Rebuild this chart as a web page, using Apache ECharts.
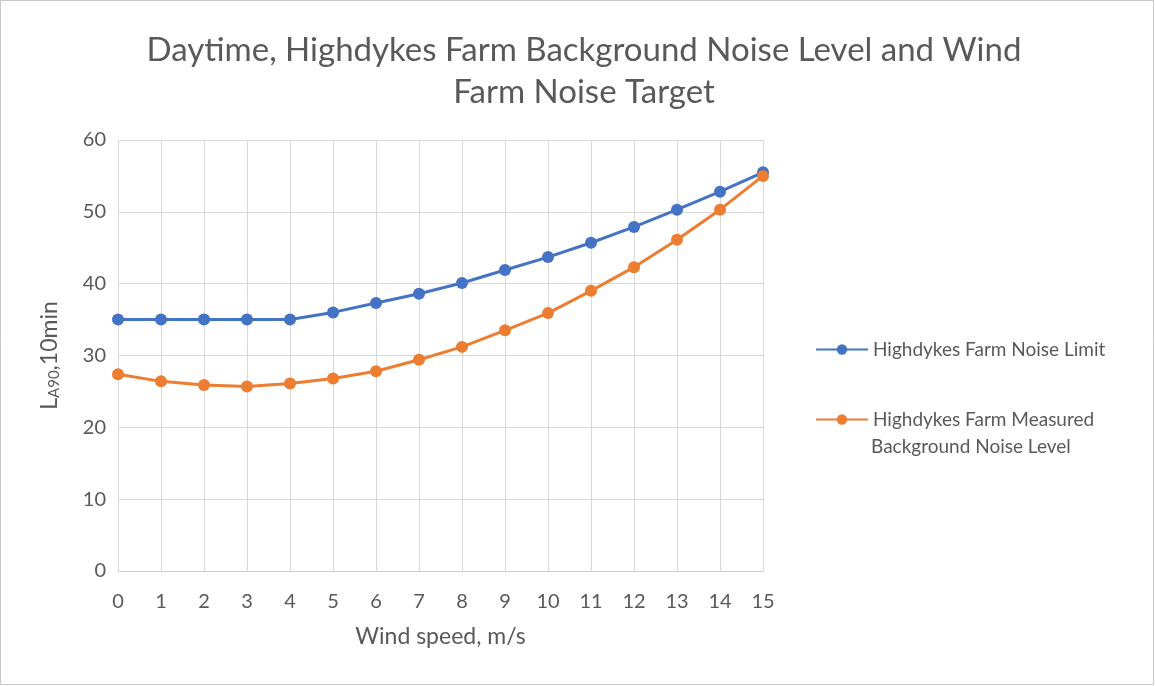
<!DOCTYPE html>
<html><head><meta charset="utf-8">
<script src="https://cdn.jsdelivr.net/npm/echarts@6/dist/echarts.min.js"></script>
<style>html,body{margin:0;padding:0;background:#fff}#c{width:1155px;height:686px}</style>
</head><body><div id="c"></div>
<script>
const windSpeeds = ['0','1','2','3','4','5','6','7','8','9','10','11','12','13','14','15'];
const noiseLimit = [35,35,35,35,35,36,37.3,38.6,40.1,41.9,43.7,45.7,47.9,50.3,52.8,55.5];
const backgroundNoise = [27.4,26.4,25.9,25.7,26.1,26.8,27.8,29.4,31.2,33.5,35.9,39.0,42.3,46.1,50.3,55.0];
const seriesNames = ['Highdykes Farm Noise Limit','Highdykes Farm Measured Background Noise Level'];
const titleText = 'Daytime, Highdykes Farm Background Noise Level and Wind\nFarm Noise Target';

const FONT = 'Lato';
const TXT = '#595959';
const chart = echarts.init(document.getElementById('c'), null, {renderer:'canvas'});
chart.setOption({
  animation:false,
  backgroundColor:'#fff',
  textStyle:{fontFamily:FONT},
  title:{text:titleText,left:579,textAlign:'center',top:24,
    textStyle:{fontFamily:FONT,fontSize:33,fontWeight:'normal',color:TXT,lineHeight:42}},
  grid:{left:118,right:392,top:140,bottom:115,containLabel:false},
  legend:{orient:'vertical',left:810,top:335,itemGap:51,itemWidth:52,itemHeight:13,
    data:seriesNames,
    formatter:function(n){return n===seriesNames[1]?'Highdykes Farm Measured':n;},
    textStyle:{fontFamily:FONT,fontSize:19,color:TXT}},
  graphic:[
    {type:'rect',shape:{x:0.5,y:0.5,width:1153,height:684},style:{fill:'none',stroke:'#c8c8c8',lineWidth:1},silent:true},
    {type:'text',left:871,top:437,style:{text:'Background Noise Level',font:'19px '+FONT,fill:TXT}}
  ],
  xAxis:{type:'category',data:windSpeeds,boundaryGap:false,
    name:'Wind speed, m/s',nameLocation:'middle',nameGap:54,
    nameTextStyle:{fontFamily:FONT,fontSize:23,color:TXT},
    axisLine:{show:true,lineStyle:{color:'#d0d0d0',width:1}},
    axisTick:{show:false},
    axisLabel:{fontFamily:FONT,fontSize:20,color:TXT,margin:21},
    splitLine:{show:true,lineStyle:{color:'#d9d9d9',width:1}}},
  yAxis:{type:'value',min:0,max:60,interval:10,
    name:'{a|L}{s|A90}{a|,10min}',nameLocation:'middle',nameGap:56,nameRotate:90,
    nameTextStyle:{rich:{a:{fontFamily:FONT,fontSize:23,color:TXT},s:{fontFamily:FONT,fontSize:15,color:TXT,verticalAlign:'bottom',padding:[10,0,0,0]}}},
    axisLine:{show:false},axisTick:{show:false},
    axisLabel:{fontFamily:FONT,fontSize:20,color:TXT,margin:12},
    splitLine:{show:true,lineStyle:{color:'#d9d9d9',width:1}}},
  series:[
    {name:seriesNames[0],type:'line',data:noiseLimit,symbol:'circle',symbolSize:12,
      lineStyle:{color:'#4472C4',width:3},itemStyle:{color:'#4472C4'}},
    {name:seriesNames[1],type:'line',data:backgroundNoise,symbol:'circle',symbolSize:12,
      lineStyle:{color:'#ED7D31',width:3},itemStyle:{color:'#ED7D31'}}
  ]
});
</script></body></html>
